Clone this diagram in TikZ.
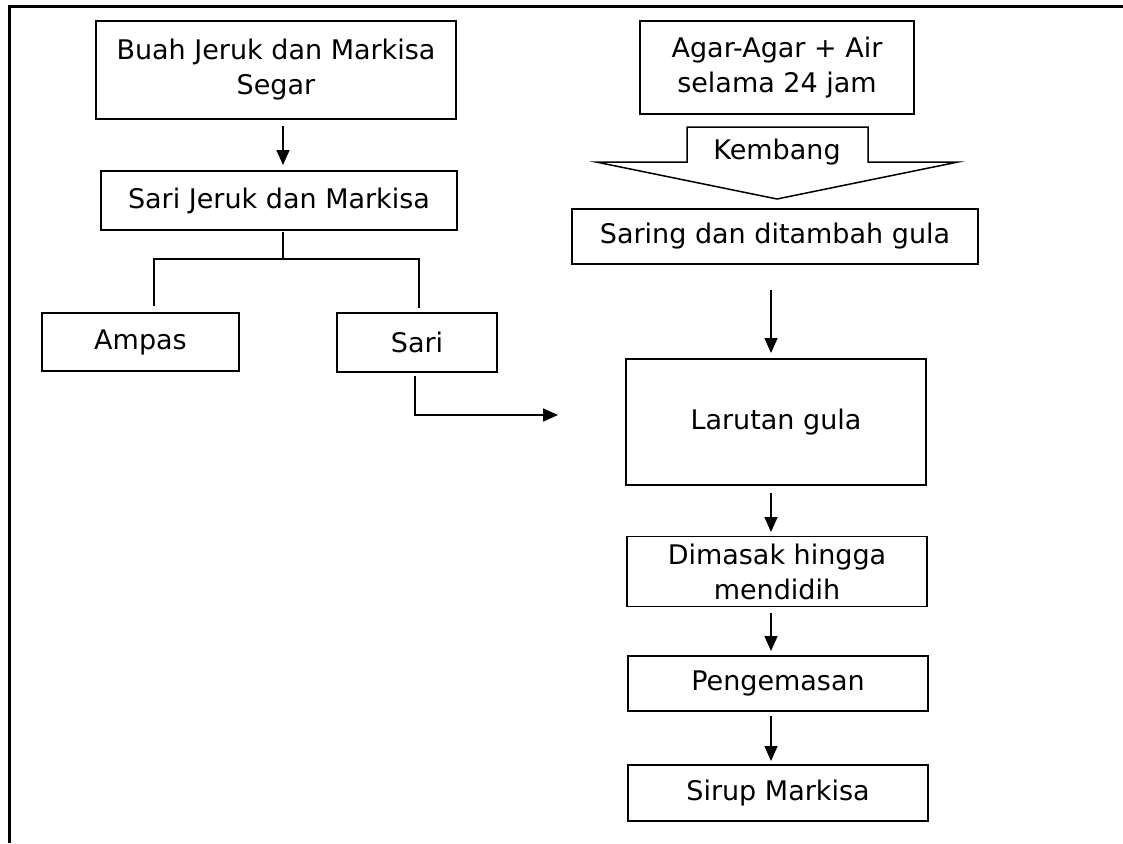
\documentclass[tikz,border=0pt]{standalone}
\usepackage{fontspec}
\setmainfont{DejaVu Sans}
\usetikzlibrary{arrows.meta}
\tikzset{
  box/.style={draw, line width=1.5pt, inner sep=0pt, align=center, font=\fontsize{27}{35}\selectfont},
  line/.style={line width=1.5pt},
  arr/.style={line width=1.5pt, -{Triangle[length=15pt,width=13pt]}},
}
\begin{document}
\begin{tikzpicture}[x=1pt,y=-1pt]
\useasboundingbox (0,0) rectangle (1123,843);
% frame
\draw[line width=3pt] (9,843) -- (9,7) -- (1123,7);
% left column
\node[box, minimum width=360pt, minimum height=98pt] (buah) at (276,70) {Buah Jeruk dan Markisa\\Segar};
\node[box, minimum width=356pt, minimum height=59pt] (sarijm) at (279,200.5) {Sari Jeruk dan Markisa};
\node[box, minimum width=197pt, minimum height=58pt] (ampas) at (140.5,342) {Ampas};
\node[box, minimum width=160pt, minimum height=59pt] (sari) at (417,342.5) {Sari};
% right column
\node[box, minimum width=274pt, minimum height=93pt] (agar) at (777,67.5) {Agar-Agar + Air\\selama 24 jam};
\draw[line] (687,127) -- (868,127) -- (868,162) -- (958,162) -- (777,199) -- (596,162) -- (687,162) -- cycle;
\node[font=\fontsize{27}{35}\selectfont, inner sep=0pt] (kembang) at (777,152) {Kembang};
\node[box, minimum width=406pt, minimum height=55pt] (saring) at (775,236.5) {Saring dan ditambah gula};
\node[box, minimum width=300pt, minimum height=126pt] (larutan) at (776,422) {Larutan gula};
\node[box, minimum width=300pt, minimum height=70pt] (dimasak) at (777,571.5) {Dimasak hingga\\mendidih};
\node[box, minimum width=300pt, minimum height=55pt] (peng) at (778,683.5) {Pengemasan};
\node[box, minimum width=300pt, minimum height=56pt] (sirup) at (778,793) {Sirup Markisa};
% connector coordinates
\coordinate (a1s) at (283,126); \coordinate (a1e) at (283,165);
\coordinate (t0) at (283,232); \coordinate (t1) at (283,259);
\coordinate (tl) at (154,259); \coordinate (tr) at (419,259);
\coordinate (tlb) at (154,306); \coordinate (trb) at (419,308);
\coordinate (s0) at (415,376); \coordinate (s1) at (415,415); \coordinate (s2) at (558,415);
\coordinate (b1s) at (771,290); \coordinate (b1e) at (771,353);
\coordinate (b2s) at (771,493); \coordinate (b2e) at (771,532);
\coordinate (b3s) at (771,613); \coordinate (b3e) at (771,651);
\coordinate (b4s) at (771,716); \coordinate (b4e) at (771,761);
% connectors
\draw[arr] (a1s) -- (a1e);
\draw[line] (t0) -- (t1);
\draw[line] (tlb) -- (tl) -- (tr) -- (trb);
\draw[arr] (s0) -- (s1) -- (s2);
\draw[arr] (b1s) -- (b1e);
\draw[arr] (b2s) -- (b2e);
\draw[arr] (b3s) -- (b3e);
\draw[arr] (b4s) -- (b4e);
\end{tikzpicture}
\end{document}
